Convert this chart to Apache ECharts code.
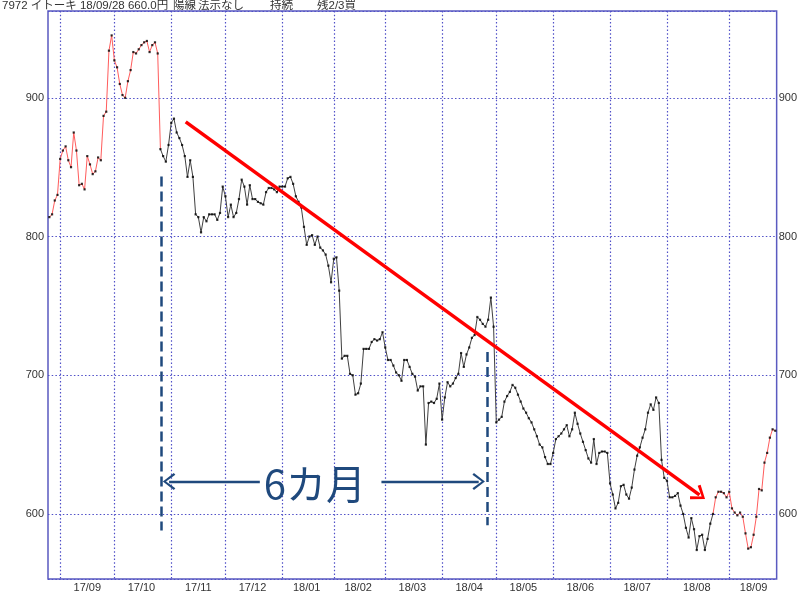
<!DOCTYPE html>
<html><head><meta charset="utf-8">
<script src="https://cdn.jsdelivr.net/npm/echarts@6/dist/echarts.min.js"></script>
<style>html,body{margin:0;padding:0;background:#fff}#c{width:800px;height:593px}</style>
</head><body><div id="c"></div>
<script>
// month tick labels
const months = ['17/08','17/09','17/10','17/11','17/12','18/01','18/02','18/03','18/04','18/05','18/06','18/07','18/08','18/09'];
// daily closing prices per month (trading days)
const aug17 = [814, 816, 826, 830];
const sep17 = [856, 862, 865, 855, 850, 875, 862, 837, 838, 834, 858, 852, 845, 847, 857, 855, 887, 890, 934, 945];
const oct17 = [927, 922, 910, 902, 900, 912, 920, 933, 932, 935, 938, 940, 941, 933, 938, 940, 932, 863, 858, 854, 866];
const nov17 = [882, 885, 875, 871, 866, 858, 843, 855, 843, 816, 814, 803, 814, 811, 816, 816, 816, 812, 817, 836];
const dec17 = [829, 814, 823, 814, 817, 827, 841, 836, 823, 837, 827, 827, 825, 824, 823, 832, 835, 835, 834, 832, 836];
const jan18 = [836, 836, 842, 843, 838, 829, 825, 821, 807, 794, 800, 801, 794, 800, 792, 790, 787, 779, 767];
const feb18 = [784, 785, 761, 712, 714, 714, 701, 700, 686, 687, 694, 719, 719, 719, 724, 726, 725, 726, 731];
const mar18 = [720, 711, 711, 707, 702, 700, 696, 711, 711, 706, 701, 699, 689, 692, 692, 650, 680, 681, 680, 683, 694];
const apr18 = [668, 684, 695, 692, 694, 698, 701, 716, 706, 715, 720, 727, 729, 742, 740, 737, 735, 740, 756, 735];
const may18 = [666, 668, 670, 681, 685, 688, 693, 691, 686, 681, 676, 673, 669, 666, 661, 656, 650, 648, 641, 636, 636];
const jun18 = [644, 654, 656, 658, 661, 664, 656, 661, 673, 665, 658, 652, 646, 640, 637, 654, 636, 644, 645, 645, 644];
const jul18 = [622, 614, 604, 608, 620, 621, 614, 611, 619, 632, 642, 648, 655, 661, 673, 679, 675, 684, 680, 639, 626];
const aug18 = [624, 612, 612, 613, 615, 606, 600, 590, 583, 597, 589, 574, 584, 585, 574, 582, 593, 600, 612, 616, 616, 615, 612];
const sep18 = [616, 604, 601, 599, 601, 598, 586, 575, 576, 585, 598, 618, 617, 637, 644, 655, 661, 660];
// segments drawn in red (day index ranges)
const redRanges = [[0, 41], [245, 268]];
// annotations in [day index, price]
const trendLine = [[50.35, 882.7], [240.0, 613.7]];
const dashLines = [[[41.4, 843.2], [41.4, 588.0]], [[161.6, 716.8], [161.6, 591.8]]];
const spanArrows = [[[77.7, 623.4], [44.2, 623.4]], [[122.6, 623.4], [158.5, 623.4]]];
const spanLabel = [98.0, 621.8];
// header words
const headWords = ['7972 イトーキ 18/09/28 660.0円', '陽線', '法示なし', '持続', '残2/3買'];

const monthData = [aug17, sep17, oct17, nov17, dec17, jan18, feb18, mar18, apr18, may18, jun18, jul18, aug18, sep18];
const categories = [], closes = [], monthOf = [], dayOf = [], monthLen = [];
monthData.forEach((arr, m) => arr.forEach((v, k) => {
  categories.push(months[m] + '#' + k); closes.push(v); monthOf.push(m); dayOf.push(k); monthLen.push(arr.length);
}));
const N = closes.length;
const blackStart = redRanges[0][1], blackEnd = redRanges[1][0];
const red1 = closes.map((v, i) => (i >= redRanges[0][0] && i <= redRanges[0][1]) ? v : null);
const red2 = closes.map((v, i) => (i >= redRanges[1][0] && i <= redRanges[1][1]) ? v : null);
const blk = closes.map((v, i) => (i >= blackStart && i <= blackEnd) ? v : null);

const navy = '#1f497d';
const blueChevron = 'path://M8.5,0 L17,11 L15.2,12.5 L8.5,3.2 L1.8,12.5 L0,11 Z';
const redChevron = 'path://M9,0 L18,12 L15.5,13.8 L9,4.2 L2.5,13.8 L0,12 Z';
const gridColor = '#5050c8';
const labelFont = { fontFamily: 'Liberation Sans', fontSize: 11, color: '#333' };
const headFont = '11.5px "Liberation Sans", "Noto Sans CJK JP"';
const headX = [2, 173, 198, 270, 317];

const chart = echarts.init(document.getElementById('c'), null, { renderer: 'canvas' });
const lineBase = { type: 'line', xAxisIndex: 0, yAxisIndex: 0, showSymbol: false, connectNulls: false, silent: true, animation: false };
chart.setOption({
  animation: false,
  grid: { left: 48, right: 23, top: 11, bottom: 9, show: true, borderColor: '#5a5ac0', borderWidth: 1.5, backgroundColor: '#fff' },
  graphic: headWords.map((w, i) => ({ type: 'text', left: headX[i], top: 0, style: { text: w, font: headFont, fill: '#333' } })),
  xAxis: [
    {
      type: 'category', data: categories, boundaryGap: true,
      axisLine: { show: false }, axisTick: { show: false },
      axisLabel: Object.assign({
        margin: 3,
        interval: (i) => monthOf[i] > 0 && dayOf[i] === Math.floor(monthLen[i] / 2),
        formatter: (v) => v.split('#')[0]
      }, labelFont),
      splitLine: {
        show: true, alignWithLabel: true,
        interval: (i) => monthOf[i] > 0 && dayOf[i] === 0,
        lineStyle: { color: gridColor, type: [1.5, 2.2], width: 1.2 }
      }
    },
    { type: 'value', min: -0.5, max: N - 0.5, show: false, splitLine: { show: false } }
  ],
  yAxis: [
    {
      type: 'value', min: 553.1, max: 962.6, position: 'left',
      axisLine: { show: false }, axisTick: { show: false },
      axisLabel: Object.assign({ margin: 4, showMinLabel: false, showMaxLabel: false }, labelFont),
      splitLine: { show: true, lineStyle: { color: gridColor, type: [1.5, 2.2], width: 1.2 } }
    },
    {
      type: 'value', min: 553.1, max: 962.6, position: 'right',
      axisLine: { show: false }, axisTick: { show: false },
      axisLabel: Object.assign({ margin: 2, showMinLabel: false, showMaxLabel: false }, labelFont),
      splitLine: { show: false }
    }
  ],
  series: [
    Object.assign({ data: blk, lineStyle: { color: '#404040', width: 1 }, z: 3 }, lineBase),
    Object.assign({ data: red1, lineStyle: { color: '#ff5c5c', width: 1 }, z: 3 }, lineBase),
    Object.assign({ data: red2, lineStyle: { color: '#ff5c5c', width: 1 }, z: 3 }, lineBase),
    { type: 'scatter', data: closes, symbol: 'rect', symbolSize: 2.2, itemStyle: { color: '#000' }, silent: true, z: 4 },
    {
      type: 'line', xAxisIndex: 1, yAxisIndex: 0, data: [], silent: true, z: 5,
      markLine: {
        silent: true, animation: false, symbol: ['none', redChevron], symbolSize: [18, 13.8],
        label: { show: false }, emphasis: { disabled: true },
        lineStyle: { color: '#ff0000', width: 3.5, type: 'solid' },
        data: [[{ coord: trendLine[0] }, { coord: trendLine[1] }]]
      }
    },
    {
      type: 'line', xAxisIndex: 1, yAxisIndex: 0, data: [], silent: true, z: 5,
      markLine: {
        silent: true, animation: false, symbol: ['none', 'none'],
        label: { show: false }, emphasis: { disabled: true },
        lineStyle: { color: navy, width: 2.5, type: [10, 5] },
        data: dashLines.map(l => [{ coord: l[0] }, { coord: l[1] }])
      }
    },
    {
      type: 'line', xAxisIndex: 1, yAxisIndex: 0, data: [], silent: true, z: 5,
      markLine: {
        silent: true, animation: false, symbol: ['none', blueChevron], symbolSize: [17, 12.5],
        label: { show: false }, emphasis: { disabled: true },
        lineStyle: { color: navy, width: 2.4, type: 'solid' },
        data: spanArrows.map(l => [{ coord: l[0] }, { coord: l[1] }])
      },
      markPoint: {
        silent: true, animation: false, symbol: 'rect', symbolSize: 1,
        itemStyle: { color: 'rgba(0,0,0,0)' },
        label: { show: true, position: 'inside', formatter: '6カ月', fontSize: 40, color: navy, fontFamily: 'Noto Sans CJK JP' },
        data: [{ coord: spanLabel, value: 0 }]
      }
    }
  ]
});
</script></body></html>
